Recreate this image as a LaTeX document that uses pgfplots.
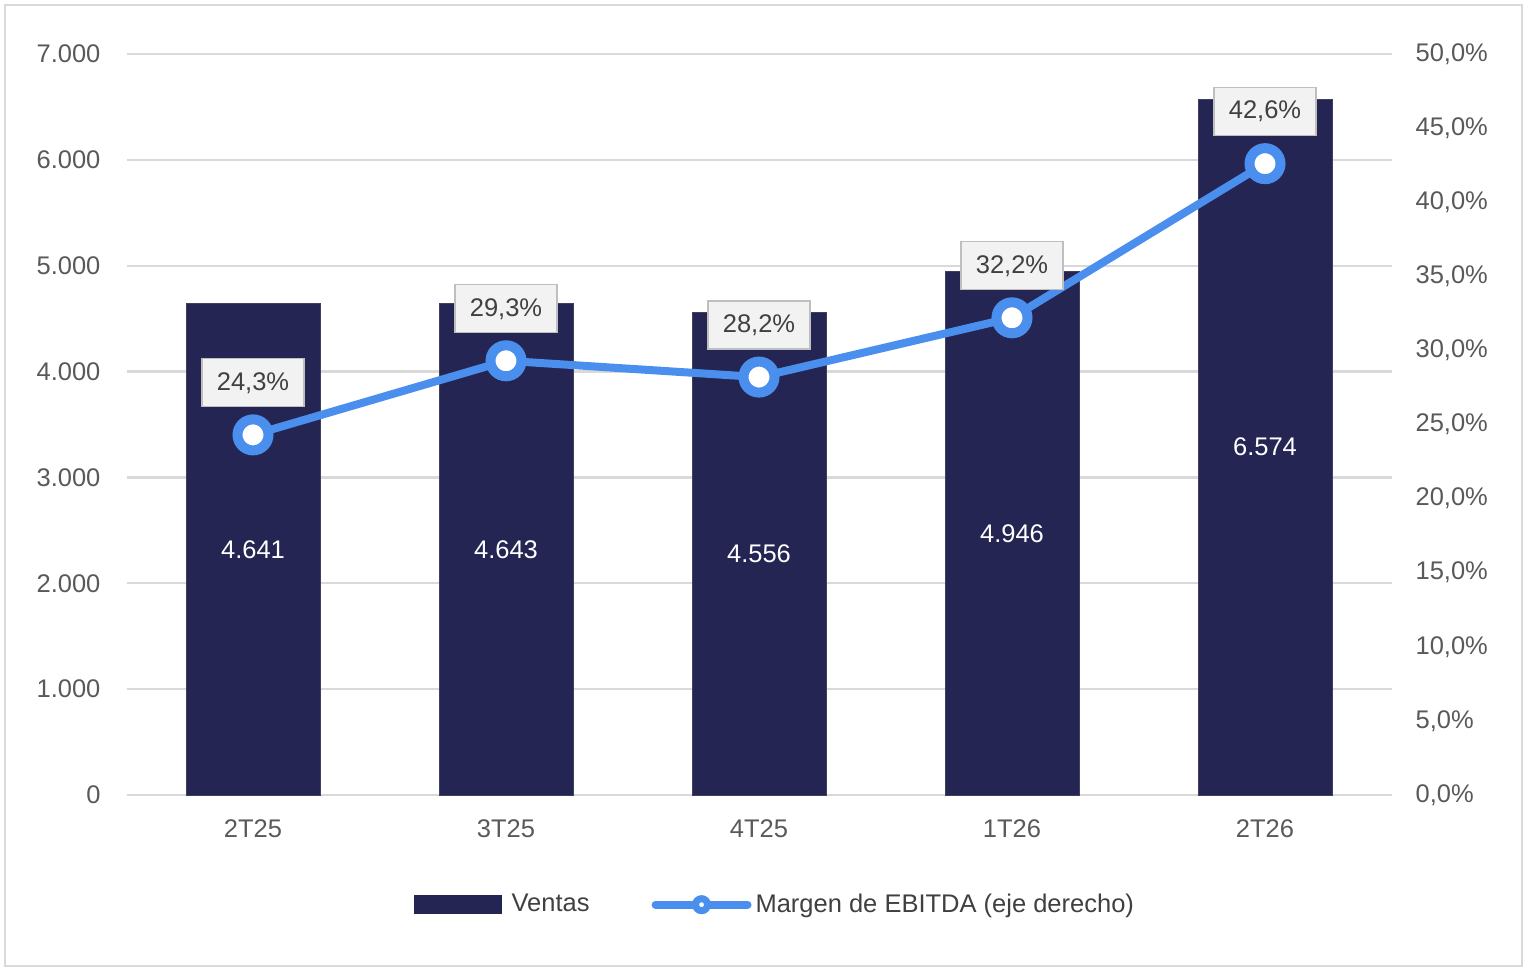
\documentclass[border=0pt]{standalone}
\usepackage{pgfplots}
\pgfplotsset{compat=1.18}
\usepackage{pgfplotstable}
\usepackage{fontspec}
\setmainfont{Liberation Sans}
\definecolor{navy}{HTML}{242552}
\definecolor{lblue}{HTML}{4A8FEE}
\definecolor{txt}{HTML}{595959}
\definecolor{gridc}{HTML}{D9D9D9}
\definecolor{boxf}{HTML}{F2F2F2}
\definecolor{boxd}{HTML}{BFBFBF}
\definecolor{lab}{HTML}{404040}
\pgfplotstableread{
x ventas mid vlab margen mlab
0 4641 2320.5 4.641 24.3 24,3
1 4643 2321.5 4.643 29.3 29,3
2 4556 2278 4.556 28.2 28,2
3 4946 2473 4.946 32.2 32,2
4 6574 3287 6.574 42.6 42,6
}\data
\newcommand{\ff}{\fontsize{12.75}{15}\selectfont}
\begin{document}
\begin{tikzpicture}
\path[use as bounding box] (0,0) rectangle (765pt,485.5pt);
\draw[gridc, line width=1pt] (2.5pt,2.5pt) rectangle (761pt,483pt);
\begin{axis}[
  at={(63.25pt,88pt)}, anchor=south west, scale only axis,
  width=632.5pt, height=370.5pt,
  xmin=-0.5, xmax=4.5, ymin=0, ymax=7000,
  axis line style={draw=none}, major tick length=0pt,
  ymajorgrids, grid style={gridc, line width=1.2pt},
  xtick={0,1,2,3,4}, xticklabels={2T25,3T25,4T25,1T26,2T26},
  ytick={0,1000,...,7000}, scaled y ticks=false,
  yticklabel style={/pgf/number format/1000 sep={.}, xshift=-9.5pt},
  xticklabel style={yshift=-9pt},
  ticklabel style={font=\ff, text=txt},
  /pgf/number format/assume math mode=true,
]
\addplot[ybar, bar width=67pt, bar shift=0pt, fill=navy, draw=navy!70!gray, line width=0.4pt] table[x=x,y=ventas]\data;
\addplot[draw=none, nodes near coords, point meta=explicit symbolic,
  every node near coord/.style={anchor=center, text=white, font=\ff}] table[x=x,y=mid,meta=vlab]\data;
\end{axis}
\begin{axis}[
  at={(63.25pt,88pt)}, anchor=south west, scale only axis,
  width=632.5pt, height=370.5pt,
  xmin=-0.5, xmax=4.5, ymin=0, ymax=50,
  axis line style={draw=none}, major tick length=0pt,
  xtick=\empty, ytick={0,5,...,50}, yticklabel pos=right,
  yticklabel={\pgfmathprintnumber[fixed,fixed zerofill,precision=1,use comma]{\tick}\%},
  yticklabel style={anchor=west, xshift=8.5pt, font=\ff, text=txt},
  /pgf/number format/assume math mode=true,
  legend style={at={(0.5135,-0.148)}, anchor=center, draw=none, fill=none,
    legend columns=2, font=\ff, text=lab,
    /tikz/every even column/.append style={column sep=29pt},
    /tikz/every odd column/.append style={column sep=0pt},
    nodes={inner xsep=2pt}},
]
\addlegendimage{legend image code/.code={\fill[navy] (0pt,-4.5pt) rectangle (43.5pt,4.5pt); \path[draw=none,fill=none] (0pt,0pt) -- (46.5pt,0pt);}}
\addlegendentry{Ventas}
\addplot[lblue, line width=4pt, mark=*, mark size=7.75pt,
  mark options={fill=white, draw=lblue, line width=5pt},
  nodes near coords={\pgfplotspointmeta\%}, point meta=explicit symbolic,
  every node near coord/.style={anchor=center, yshift=26pt, fill=boxf, draw=boxd,
    line width=0.6pt, text=lab, font=\ff, minimum width=51pt, minimum height=24pt},
  legend image code/.code={\draw[lblue, line width=4pt, line cap=round] (0pt,0pt) -- (46pt,0pt);
    \draw[lblue, fill=white, line width=3.5pt] (23pt,0pt) circle (3pt);}
] table[x=x,y=margen,meta=mlab]\data;
\addlegendentry{Margen de EBITDA (eje derecho)}
\end{axis}
\end{tikzpicture}
\end{document}
